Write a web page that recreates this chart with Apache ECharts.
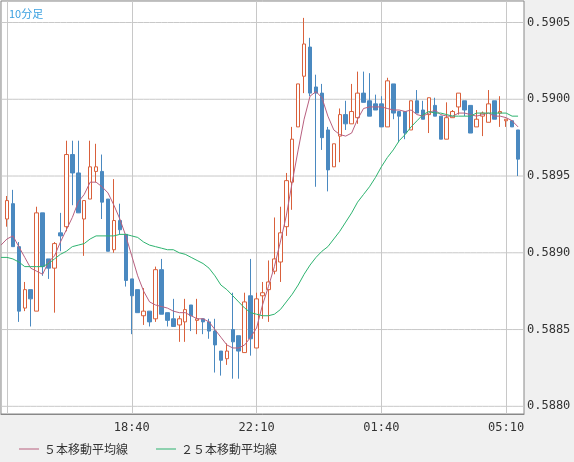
<!DOCTYPE html>
<html>
<head>
<meta charset="utf-8">
<script src="https://cdn.jsdelivr.net/npm/echarts@6/dist/echarts.min.js"></script>
<style>
  html, body { margin: 0; padding: 0; background: #f0f0f0; }
  #main { width: 574px; height: 462px; }
</style>
</head>
<body>
<div id="main"></div>
<script>
// 10分足, 15:00 から 05:40 まで (15:00 と 05:40 は空)
var times = [];
for (var i = 0; i <= 88; i++) {
  var m = (15 * 60 + i * 10) % 1440;
  times.push(('0' + Math.floor(m / 60)).slice(-2) + ':' + ('0' + (m % 60)).slice(-2));
}

// [open, close, low, high]
var candles = [
  '-',
  [0.58922, 0.58934, 0.58917, 0.58937], [0.58932, 0.58904, 0.58904, 0.58941],
  [0.58904, 0.58862, 0.58855, 0.58907], [0.58864, 0.58876, 0.58862, 0.58881],
  [0.58876, 0.58870, 0.58852, 0.58876], [0.58862, 0.58926, 0.58862, 0.58930],
  [0.58926, 0.58891, 0.58885, 0.58926], [0.58896, 0.58890, 0.58883, 0.58896],
  [0.58890, 0.58906, 0.58861, 0.58907], [0.58913, 0.58911, 0.58901, 0.58926],
  [0.58917, 0.58964, 0.58914, 0.58973], [0.58964, 0.58952, 0.58931, 0.58973],
  [0.58952, 0.58926, 0.58926, 0.58973], [0.58922, 0.58934, 0.58898, 0.58934],
  [0.58935, 0.58956, 0.58935, 0.58973], [0.58953, 0.58956, 0.58946, 0.58971],
  [0.58953, 0.58933, 0.58922, 0.58964], [0.58935, 0.58901, 0.58901, 0.58935],
  [0.58902, 0.58921, 0.58900, 0.58948], [0.58921, 0.58915, 0.58912, 0.58932],
  [0.58912, 0.58882, 0.58878, 0.58912], [0.58883, 0.58872, 0.58847, 0.58883],
  [0.58876, 0.58861, 0.58861, 0.58876], [0.58859, 0.58862, 0.58853, 0.58877],
  [0.58862, 0.58855, 0.58852, 0.58862], [0.58857, 0.58889, 0.58855, 0.58891],
  [0.58889, 0.58860, 0.58860, 0.58896], [0.58861, 0.58856, 0.58852, 0.58861],
  [0.58857, 0.58852, 0.58852, 0.58870], [0.58853, 0.58857, 0.58842, 0.58859],
  [0.58855, 0.58863, 0.58842, 0.58870], [0.58866, 0.58859, 0.58849, 0.58866],
  [0.58856, 0.58857, 0.58847, 0.58870], [0.58857, 0.58855, 0.58847, 0.58857],
  [0.58855, 0.58849, 0.58844, 0.58857], [0.58849, 0.58840, 0.58822, 0.58857],
  [0.58836, 0.58830, 0.58820, 0.58836], [0.58831, 0.58836, 0.58827, 0.58841],
  [0.58850, 0.58842, 0.58818, 0.58874], [0.58846, 0.58836, 0.58818, 0.58846],
  [0.58835, 0.58868, 0.58835, 0.58874], [0.58872, 0.58844, 0.58833, 0.58896],
  [0.58838, 0.58870, 0.58838, 0.58874], [0.58872, 0.58874, 0.58857, 0.58881],
  [0.58876, 0.58881, 0.58855, 0.58895], [0.58888, 0.58896, 0.58886, 0.58923],
  [0.58894, 0.58913, 0.58881, 0.58930], [0.58917, 0.58947, 0.58911, 0.58952],
  [0.58946, 0.58974, 0.58928, 0.58982], [0.58982, 0.59010, 0.58982, 0.59010],
  [0.59015, 0.59036, 0.59004, 0.59053], [0.59034, 0.59004, 0.59002, 0.59040],
  [0.59008, 0.59004, 0.58943, 0.59016], [0.59004, 0.58975, 0.58967, 0.59010],
  [0.58980, 0.58954, 0.58940, 0.58982], [0.58956, 0.58971, 0.58956, 0.58971],
  [0.58976, 0.58990, 0.58959, 0.58994], [0.58990, 0.58984, 0.58980, 0.58999],
  [0.58984, 0.58992, 0.58984, 0.59010], [0.58988, 0.59004, 0.58984, 0.59018],
  [0.59004, 0.58998, 0.58998, 0.59018], [0.58999, 0.58989, 0.58989, 0.59017],
  [0.58997, 0.58993, 0.58993, 0.59003], [0.58997, 0.58982, 0.58982, 0.59002],
  [0.58982, 0.59012, 0.58982, 0.59014], [0.59010, 0.58991, 0.58987, 0.59010],
  [0.58992, 0.58989, 0.58972, 0.58992], [0.58992, 0.58978, 0.58974, 0.58992],
  [0.58980, 0.58999, 0.58980, 0.58999], [0.58999, 0.58991, 0.58991, 0.59006],
  [0.58993, 0.58987, 0.58987, 0.58999], [0.58990, 0.59001, 0.58978, 0.59001],
  [0.58996, 0.58989, 0.58989, 0.59001], [0.58989, 0.58974, 0.58974, 0.58989],
  [0.58974, 0.58988, 0.58974, 0.58998], [0.58988, 0.58992, 0.58988, 0.58993],
  [0.58995, 0.59004, 0.58990, 0.59004], [0.58999, 0.58993, 0.58989, 0.58999],
  [0.58996, 0.58978, 0.58978, 0.58996], [0.58982, 0.58987, 0.58982, 0.58993],
  [0.58989, 0.58991, 0.58976, 0.58992], [0.58985, 0.58997, 0.58985, 0.59006],
  [0.58999, 0.58987, 0.58987, 0.58999], [0.58991, 0.58992, 0.58982, 0.59002],
  [0.58986, 0.58987, 0.58982, 0.58987], [0.58986, 0.58982, 0.58982, 0.58986],
  [0.58980, 0.58961, 0.58950, 0.58980],
  '-'
];

var ma5 = [
  0.58905, 0.58909, 0.58911, 0.58904, 0.58897, 0.58890, 0.58888, 0.58886, 0.58894, 0.58898,
  0.58907, 0.58915, 0.58923, 0.58933, 0.58938, 0.58946, 0.58946, 0.58943, 0.58939, 0.58931,
  0.58922, 0.58911, 0.58898, 0.58885, 0.58875, 0.58868, 0.58866, 0.58865, 0.58864, 0.58862,
  0.58861, 0.58861, 0.58859, 0.58857, 0.58857, 0.58855, 0.58850, 0.58845, 0.58840, 0.58838,
  0.58838, 0.58840, 0.58845, 0.58851, 0.58866, 0.58878, 0.58891, 0.58907, 0.58924, 0.58946,
  0.58967, 0.58987, 0.59002, 0.59005, 0.59001, 0.58989, 0.58980, 0.58977, 0.58976, 0.58978,
  0.58987, 0.58994, 0.58995, 0.58995, 0.58995, 0.58994, 0.58993, 0.58993, 0.58992, 0.58993,
  0.58990, 0.58989, 0.58991, 0.58993, 0.58990, 0.58989, 0.58989, 0.58991, 0.58991, 0.58990,
  0.58989, 0.58990, 0.58991, 0.58989, 0.58989, 0.58988, 0.58986, 0.58982, '-'
];

var ma25 = [
  0.58897, 0.58897, 0.58896, 0.58894, 0.58891, 0.58891, 0.58891, 0.58891, 0.58893, 0.58896,
  0.58899, 0.58901, 0.58904, 0.58905, 0.58906, 0.58909, 0.58911, 0.58911, 0.58911, 0.58911,
  0.58912, 0.58912, 0.58911, 0.58910, 0.58907, 0.58905, 0.58904, 0.58903, 0.58902, 0.58902,
  0.58900, 0.58899, 0.58897, 0.58895, 0.58893, 0.58890, 0.58885, 0.58879, 0.58876, 0.58872,
  0.58868, 0.58864, 0.58861, 0.58860, 0.58859, 0.58859, 0.58860, 0.58863, 0.58868, 0.58873,
  0.58879, 0.58886, 0.58892, 0.58897, 0.58901, 0.58904, 0.58909, 0.58914, 0.58920, 0.58926,
  0.58933, 0.58938, 0.58943, 0.58949, 0.58956, 0.58962, 0.58967, 0.58973, 0.58977, 0.58982,
  0.58986, 0.58990, 0.58992, 0.58991, 0.58991, 0.58990, 0.58989, 0.58989, 0.58989, 0.58989,
  0.58991, 0.58991, 0.58991, 0.58991, 0.58991, 0.58991, 0.58989, 0.58989, '-'
];

var priceTicks = [0.5880, 0.5885, 0.5890, 0.5895, 0.5900, 0.5905];

var chart = echarts.init(document.getElementById('main'));
var monoFont = 'DejaVu Sans Mono';

// 水平グリッド線はマークラインで描く
var gridSeries = priceTicks.map(function (p, n) {
  return {
    name: 'grid' + n,
    type: 'line',
    data: times.map(function () { return p; }),
    showSymbol: false,
    silent: true,
    z: 0,
    lineStyle: { color: '#c8c8c8', width: 1 },
    itemStyle: { color: '#c8c8c8' }
  };
});

var option = {
  backgroundColor: '#f0f0f0',
  animation: false,
  title: {
    text: '10分足',
    left: 4, top: 3,
    textStyle: { color: '#3aa0e0', fontSize: 11, fontWeight: 'normal', fontFamily: 'Noto Sans CJK JP' }
  },
  legend: {
    left: 14, top: 438,
    itemWidth: 20, itemHeight: 1, itemGap: 28,
    icon: 'rect',
    textStyle: { color: '#333', fontSize: 12, fontFamily: 'Noto Sans CJK JP' },
    data: ['５本移動平均線', '２５本移動平均線']
  },
  grid: {
    left: 1, right: 50, top: 1, bottom: 48,
    show: true, backgroundColor: '#fff', borderColor: '#888', borderWidth: 1
  },
  xAxis: {
    type: 'category',
    data: times,
    boundaryGap: false,
    axisLine: { lineStyle: { color: '#888' } },
    axisTick: { show: false },
    axisLabel: {
      color: '#333', fontSize: 12, fontFamily: monoFont, margin: 8,
      interval: function (i) { return i > 1 && (i - 1) % 21 === 0; }
    },
    splitLine: {
      show: true,
      interval: function (i) { return (i - 1) % 21 === 0; },
      lineStyle: { color: '#c8c8c8' }
    }
  },
  yAxis: {
    type: 'value',
    position: 'right',
    min: 0.58795, max: 0.59064, interval: 0.00005,
    axisLine: { show: false },
    axisTick: { show: false },
    splitLine: { show: false },
    axisLabel: {
      color: '#333', fontSize: 12, fontFamily: monoFont, margin: 3,
      formatter: function (v) {
        var k = v * 2000;
        return Math.abs(k - Math.round(k)) < 1e-6 ? v.toFixed(4) : '';
      }
    }
  },
  series: gridSeries.concat([
    {
      name: 'candle',
      type: 'candlestick',
      data: candles,
      barWidth: 4,
      z: 2,
      itemStyle: {
        color: '#ffffff',
        color0: '#4a89c0',
        borderColor: '#d9603b',
        borderColor0: '#4a89c0',
        borderWidth: 1
      }
    },
    {
      name: '５本移動平均線',
      type: 'line',
      data: ma5,
      showSymbol: false,
      z: 3,
      lineStyle: { color: '#b8607f', width: 1 },
      itemStyle: { color: '#b8607f' }
    },
    {
      name: '２５本移動平均線',
      type: 'line',
      data: ma25,
      showSymbol: false,
      z: 3,
      lineStyle: { color: '#2db36f', width: 1 },
      itemStyle: { color: '#2db36f' }
    }
  ])
};

chart.setOption(option);
</script>
</body>
</html>
